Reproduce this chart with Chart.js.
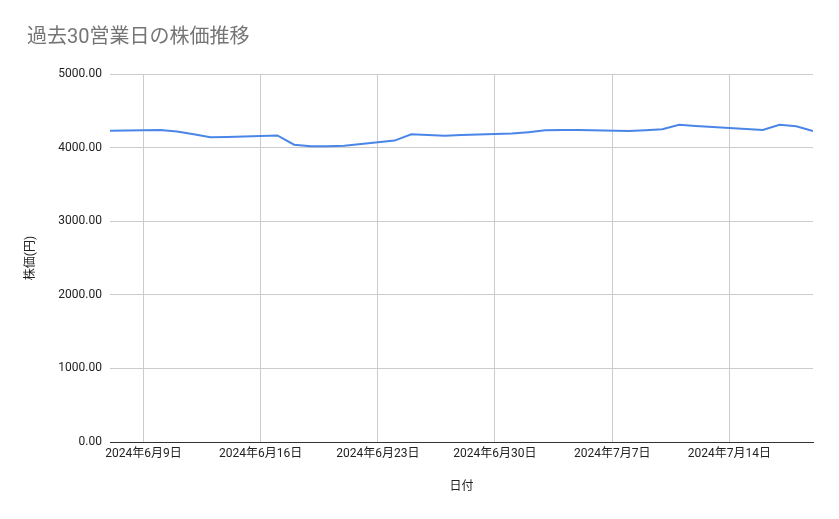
<!DOCTYPE html>
<html>
<head>
<meta charset="utf-8">
<script src="https://cdn.jsdelivr.net/npm/chart.js@4"></script>
<style>
  body { margin: 0; background: #fff; }
</style>
</head>
<body>
<canvas id="stockChart" width="839" height="519"></canvas>
<script>
// 過去30営業日の終値
const dates = [
  '2024-06-07',
  '2024-06-10', '2024-06-11', '2024-06-12', '2024-06-13', '2024-06-14',
  '2024-06-17', '2024-06-18', '2024-06-19', '2024-06-20', '2024-06-21',
  '2024-06-24', '2024-06-25', '2024-06-26', '2024-06-27', '2024-06-28',
  '2024-07-01', '2024-07-02', '2024-07-03', '2024-07-04', '2024-07-05',
  '2024-07-08', '2024-07-09', '2024-07-10', '2024-07-11', '2024-07-12',
  '2024-07-16', '2024-07-17', '2024-07-18', '2024-07-19'
];
const prices = [
  4230,
  4240, 4220, 4180, 4140, 4145,
  4165, 4040, 4020, 4020, 4025,
  4095, 4180, 4170, 4160, 4170,
  4190, 4210, 4235, 4240, 4240,
  4225, 4235, 4250, 4310, 4295,
  4240, 4310, 4290, 4225
];
const tickDates = ['2024-06-09', '2024-06-16', '2024-06-23', '2024-06-30', '2024-07-07', '2024-07-14'];
const tickLabels = ['2024年6月9日', '2024年6月16日', '2024年6月23日', '2024年6月30日', '2024年7月7日', '2024年7月14日'];
const rangeStart = '2024-06-07';
const rangeEnd = '2024-07-19';

const FONT = 'Roboto, "Noto Sans CJK JP", sans-serif';

// 日付 -> 開始日からの日数
function dayOffset(d) {
  return (Date.parse(d) - Date.parse(rangeStart)) / 86400000;
}

document.addEventListener('DOMContentLoaded', function() {
  var ctx = document.getElementById('stockChart').getContext('2d');

  new Chart(ctx, {
    type: 'line',
    data: {
      datasets: [{
        label: '株価',
        data: dates.map(function(d, i) { return { x: dayOffset(d), y: prices[i] }; }),
        borderColor: '#4a86e8',
        borderWidth: 2,
        pointRadius: 0,
        tension: 0,
        fill: false
      }]
    },
    options: {
      responsive: false,
      animation: false,
      layout: { padding: { left: 27, right: 26, top: 0, bottom: 0 } },
      scales: {
        x: {
          type: 'linear',
          min: 0,
          max: dayOffset(rangeEnd),
          afterBuildTicks: function(scale) {
            scale.ticks = tickDates.map(function(d) { return { value: dayOffset(d) }; });
          },
          afterFit: function(scale) { scale.height = 77; },
          grid: { color: '#cccccc', drawTicks: false },
          border: { color: '#333333', width: 1 },
          ticks: {
            autoSkip: false,
            maxRotation: 0,
            padding: 5,
            color: '#222222',
            font: { family: FONT, size: 12 },
            callback: function(value, index) { return tickLabels[index]; }
          },
          title: {
            display: true,
            text: '日付',
            color: '#222222',
            font: { family: FONT, size: 12 },
            padding: { top: 0, bottom: 25 }
          }
        },
        y: {
          min: 0,
          max: 5000,
          afterFit: function(scale) { scale.width = 83; },
          grid: {
            drawTicks: false,
            color: function(c) { return c.tick && c.tick.value === 0 ? '#333333' : '#cccccc'; }
          },
          border: { display: false },
          ticks: {
            stepSize: 1000,
            padding: 8,
            color: '#222222',
            font: { family: FONT, size: 12 },
            callback: function(v) { return v.toFixed(2); }
          },
          title: {
            display: true,
            text: '株価(円)',
            color: '#222222',
            font: { family: FONT, size: 12 },
            padding: { top: -3, bottom: 0 }
          }
        }
      },
      plugins: {
        legend: { display: false },
        tooltip: { enabled: false },
        title: {
          display: true,
          text: '過去30営業日の株価推移',
          align: 'start',
          color: '#757575',
          font: { family: FONT, size: 20, weight: 'normal' },
          padding: { top: 26, bottom: 24 }
        }
      }
    }
  });
});
</script>
</body>
</html>
